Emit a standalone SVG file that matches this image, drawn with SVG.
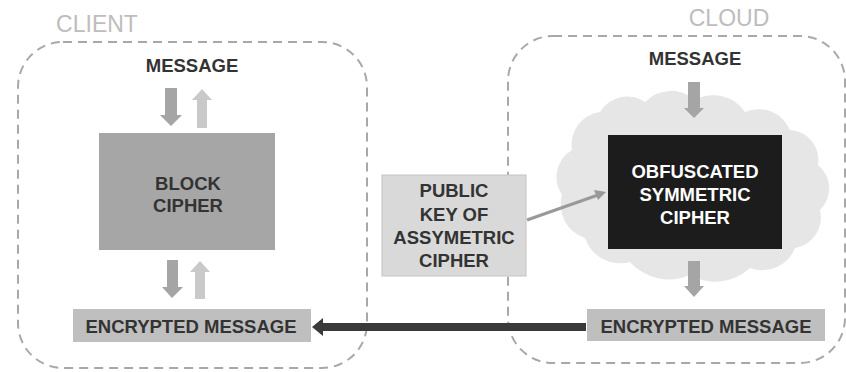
<svg xmlns="http://www.w3.org/2000/svg" width="846" height="372" viewBox="0 0 846 372">
<style>
.zone{fill:none;stroke:#a8a8a8;stroke-width:2;stroke-dasharray:9 6}
.ztitle{font-family:"Liberation Sans",Arial,sans-serif;font-size:23px;fill:#bdbdbd;text-anchor:middle}
.lbl{font-family:"Liberation Sans",Arial,sans-serif;font-weight:bold;font-size:18.5px;fill:#333;text-anchor:middle}
.wlbl{font-family:"Liberation Sans",Arial,sans-serif;font-weight:bold;font-size:18.5px;fill:#fff;text-anchor:middle}
.dn{fill:#a5a5a5}
.up{fill:#c9c9c9}
</style>
<rect width="846" height="372" fill="#fff"/>
<g id="client-zone">
<rect class="zone" x="18" y="42" width="349" height="326" rx="45"/>
<text class="ztitle" x="97" y="32">CLIENT</text>
</g>
<g id="cloud-zone">
<rect class="zone" x="508" y="36" width="337" height="327" rx="45"/>
<text class="ztitle" x="729" y="26">CLOUD</text>
<path d="M572,150 A33 33 0 0 1 600,112 A31.5 31.5 0 0 1 645,102 A36 36 0 0 1 695,100 A38 38 0 0 1 745,112 A34 34 0 0 1 790,130 A30 30 0 0 1 818,165 A30 30 0 0 1 820,210 A31 31 0 0 1 795,248 A35 35 0 0 1 750,268 A51 51 0 0 1 690,275 A52 52 0 0 1 630,262 A37 37 0 0 1 585,238 A35 35 0 0 1 562,195 A31.5 31.5 0 0 1 572,150 Z" fill="#e6e6e6"/>
</g>
<g id="client-message">
<text class="lbl" x="192" y="72">MESSAGE</text>
</g>
<g id="block-cipher">
<rect x="99" y="133" width="176" height="117" fill="#a6a6a6"/>
<text class="lbl" x="188" y="190">BLOCK</text>
<text class="lbl" x="188" y="212">CIPHER</text>
</g>
<g id="client-encrypted">
<rect x="73" y="309" width="238" height="33" fill="#bfbfbf"/>
<text class="lbl" x="191" y="333">ENCRYPTED MESSAGE</text>
</g>
<g id="cloud-message">
<text class="lbl" x="695" y="65">MESSAGE</text>
</g>
<g id="obfuscated-cipher">
<rect x="608" y="135" width="174" height="114" fill="#1c1c1c"/>
<text class="wlbl" x="695" y="178">OBFUSCATED</text>
<text class="wlbl" x="695" y="201">SYMMETRIC</text>
<text class="wlbl" x="695" y="224">CIPHER</text>
</g>
<g id="cloud-encrypted">
<rect x="587" y="309" width="238" height="32" fill="#bfbfbf"/>
<text class="lbl" x="706" y="333">ENCRYPTED MESSAGE</text>
</g>
<g id="public-key">
<rect x="382" y="175" width="144" height="101" fill="#d9d9d9" stroke="#c4c4c4" stroke-width="1"/>
<text class="lbl" x="454" y="197">PUBLIC</text>
<text class="lbl" x="454" y="221">KEY OF</text>
<text class="lbl" x="454" y="244">ASSYMETRIC</text>
<text class="lbl" x="454" y="267">CIPHER</text>
</g>
<g id="connectors">
<polygon class="dn" points="165,88 177,88 177,115 182,115 171,126 160,115 165,115"/>
<polygon class="up" points="197,128 207,128 207,100 212,100 202,89 192,100 197,100"/>
<polygon class="dn" points="167,260 178,260 178,287 183,287 172,298 162,287 167,287"/>
<polygon class="up" points="195,299 205,299 205,272 210,272 200,261 190,272 195,272"/>
<polygon class="dn" points="688,82 700,82 700,108 704,108 694,118 684,108 688,108"/>
<polygon class="dn" points="688,261 700,261 700,286 704,286 694,297 684,286 688,286"/>
<line x1="527" y1="220" x2="598" y2="195" stroke="#999" stroke-width="3"/>
<polygon points="606,192 594,190 598,200" fill="#999"/>
<rect x="320" y="323" width="266" height="8" fill="#3a3a3a"/>
<polygon points="312,327 323,318 323,336" fill="#3a3a3a"/>
</g>
</svg>
